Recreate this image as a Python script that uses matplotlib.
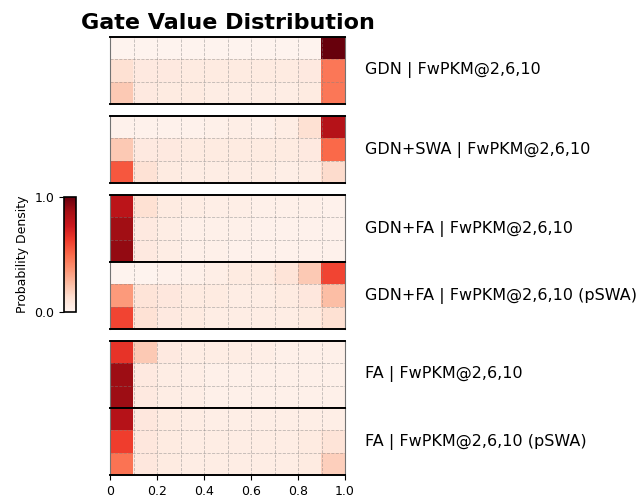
import matplotlib.pyplot as plt
import numpy as np

# gate value bins (10 bins over [0, 1]), 3 rows (layers 2, 6, 10) per model
labels = [
    'GDN | FwPKM@2,6,10',
    'GDN+SWA | FwPKM@2,6,10',
    'GDN+FA | FwPKM@2,6,10',
    'GDN+FA | FwPKM@2,6,10 (pSWA)',
    'FA | FwPKM@2,6,10',
    'FA | FwPKM@2,6,10 (pSWA)',
]

gdn = [
    [0.01, 0.01, 0.01, 0.01, 0.01, 0.01, 0.01, 0.01, 0.01, 1.00],
    [0.12, 0.07, 0.07, 0.06, 0.06, 0.06, 0.06, 0.06, 0.07, 0.46],
    [0.20, 0.07, 0.06, 0.06, 0.05, 0.05, 0.05, 0.05, 0.06, 0.46],
]
gdn_swa = [
    [0.02, 0.02, 0.02, 0.02, 0.03, 0.04, 0.03, 0.05, 0.12, 0.82],
    [0.20, 0.07, 0.07, 0.06, 0.06, 0.06, 0.06, 0.06, 0.07, 0.50],
    [0.55, 0.11, 0.06, 0.05, 0.05, 0.05, 0.05, 0.04, 0.05, 0.14],
]
gdn_fa = [
    [0.80, 0.12, 0.06, 0.05, 0.04, 0.04, 0.03, 0.03, 0.03, 0.02],
    [0.88, 0.07, 0.05, 0.03, 0.03, 0.03, 0.02, 0.02, 0.02, 0.02],
    [0.91, 0.07, 0.05, 0.03, 0.03, 0.02, 0.02, 0.02, 0.02, 0.02],
]
gdn_fa_pswa = [
    [0.01, 0.01, 0.02, 0.03, 0.04, 0.06, 0.06, 0.10, 0.20, 0.60],
    [0.35, 0.10, 0.08, 0.06, 0.06, 0.05, 0.05, 0.06, 0.08, 0.24],
    [0.60, 0.11, 0.07, 0.06, 0.05, 0.05, 0.05, 0.05, 0.06, 0.12],
]
fa = [
    [0.65, 0.20, 0.07, 0.05, 0.05, 0.05, 0.04, 0.03, 0.03, 0.03],
    [0.89, 0.07, 0.05, 0.04, 0.03, 0.03, 0.03, 0.03, 0.03, 0.03],
    [0.89, 0.07, 0.05, 0.04, 0.03, 0.03, 0.03, 0.03, 0.03, 0.03],
]
fa_pswa = [
    [0.82, 0.08, 0.06, 0.05, 0.04, 0.04, 0.04, 0.04, 0.04, 0.04],
    [0.62, 0.08, 0.06, 0.05, 0.05, 0.05, 0.05, 0.05, 0.06, 0.10],
    [0.47, 0.08, 0.06, 0.05, 0.05, 0.05, 0.05, 0.05, 0.06, 0.18],
]
panels = [gdn, gdn_swa, gdn_fa, gdn_fa_pswa, fa, fa_pswa]

fig = plt.figure(figsize=(6.39, 5.01), dpi=100)
W, H = 639, 501

# pixel layout of the panels (top, bottom)
tops = [37, 116, 195, 262, 341, 408]
height = 67
x0, x1 = 110, 345

axes = []
for i, data in enumerate(panels):
    top = tops[i]
    ax = fig.add_axes([x0 / W, 1 - (top + height) / H, (x1 - x0) / W, height / H])
    im = ax.imshow(np.array(data), cmap='Reds', vmin=0, vmax=1, aspect='auto',
                   extent=[0, 1, 3, 0], interpolation='nearest')
    ax.set_xticks(np.arange(0, 1.01, 0.2))
    ax.set_xticks(np.arange(0, 1.01, 0.1), minor=True)
    ax.set_yticks([])
    ax.set_yticks([1, 2], minor=True)
    ax.grid(True, which='both', linestyle='--', color='gray', alpha=0.5, linewidth=0.6)
    ax.tick_params(which='minor', length=0)
    ax.tick_params(axis='y', which='both', left=False)
    if i < len(panels) - 1:
        ax.tick_params(axis='x', which='both', bottom=False, labelbottom=False)
    else:
        ax.set_xticklabels(['0', '0.2', '0.4', '0.6', '0.8', '1.0'], fontsize=9)
    for s in ['left', 'right']:
        ax.spines[s].set_color('0.45')
        ax.spines[s].set_linewidth(0.8)
    for s in ['top', 'bottom']:
        ax.spines[s].set_color('black')
        ax.spines[s].set_linewidth(1.4)
    ax.text(1.085, 0.5, labels[i], transform=ax.transAxes, fontsize=11.5,
            ha='left', va='center')
    axes.append(ax)

axes[0].set_title('Gate Value Distribution', fontsize=16, fontweight='bold', pad=6)

cax = fig.add_axes([64 / W, 1 - 312 / H, 12 / W, 115 / H])
cb = fig.colorbar(im, cax=cax, ticks=[0, 1])
cb.outline.set_linewidth(1.2)
cb.ax.set_yticklabels(['0.0', '1.0'], fontsize=9)
cb.ax.yaxis.set_ticks_position('left')
cb.ax.yaxis.set_label_position('left')
cb.set_label('Probability Density', fontsize=9)

fig.savefig('out.png', dpi=100)
